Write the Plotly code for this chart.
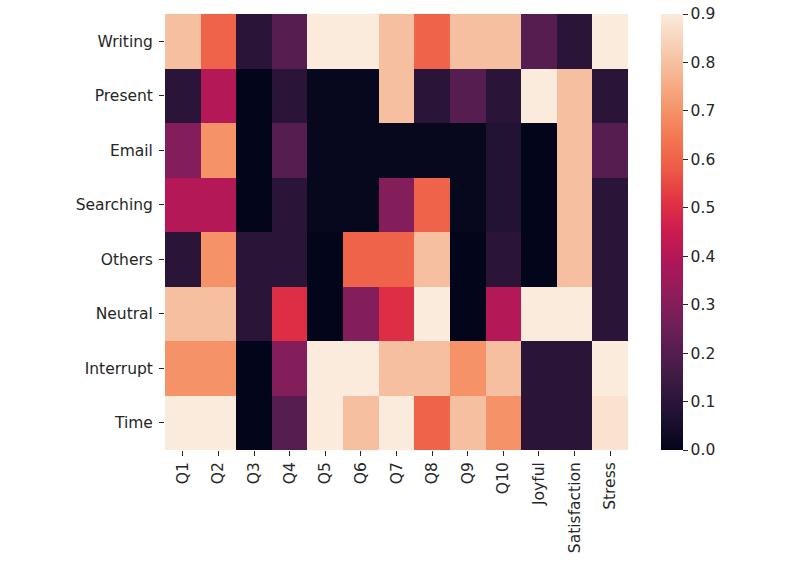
import plotly.graph_objects as go

rows = ["Writing", "Present", "Email", "Searching", "Others", "Neutral", "Interrupt", "Time"]
cols = ["Q1", "Q2", "Q3", "Q4", "Q5", "Q6", "Q7", "Q8", "Q9", "Q10", "Joyful", "Satisfaction", "Stress"]

writing   = [0.80, 0.60, 0.10, 0.20, 0.90, 0.90, 0.80, 0.60, 0.80, 0.80, 0.20, 0.10, 0.90]
present   = [0.10, 0.40, 0.00, 0.10, 0.01, 0.01, 0.80, 0.10, 0.20, 0.10, 0.90, 0.80, 0.10]
email     = [0.30, 0.70, 0.00, 0.20, 0.01, 0.01, 0.01, 0.01, 0.01, 0.08, 0.00, 0.80, 0.20]
searching = [0.40, 0.40, 0.00, 0.10, 0.01, 0.01, 0.30, 0.60, 0.01, 0.08, 0.00, 0.80, 0.10]
others    = [0.10, 0.70, 0.10, 0.10, 0.00, 0.60, 0.60, 0.80, 0.00, 0.10, 0.00, 0.80, 0.10]
neutral   = [0.80, 0.80, 0.10, 0.50, 0.00, 0.30, 0.50, 0.90, 0.00, 0.40, 0.90, 0.90, 0.10]
interrupt = [0.70, 0.70, 0.00, 0.30, 0.90, 0.90, 0.80, 0.80, 0.70, 0.80, 0.10, 0.10, 0.90]
time_     = [0.90, 0.90, 0.00, 0.20, 0.90, 0.80, 0.90, 0.60, 0.80, 0.70, 0.10, 0.10, 0.88]

z = [writing, present, email, searching, others, neutral, interrupt, time_]

cbar_ticks = [0, 0.1, 0.2, 0.3, 0.4, 0.5, 0.6, 0.7, 0.8, 0.9]
cbar_labels = ["0.0", "0.1", "0.2", "0.3", "0.4", "0.5", "0.6", "0.7", "0.8", "0.9"]

rocket = [
    [0.0, "#03051A"],
    [0.071, "#1c1030"],
    [0.143, "#35193E"],
    [0.214, "#511d4f"],
    [0.286, "#701F57"],
    [0.357, "#8e1d5b"],
    [0.429, "#AD1759"],
    [0.5, "#cb1b4f"],
    [0.571, "#E13342"],
    [0.643, "#ed5a46"],
    [0.714, "#F37651"],
    [0.786, "#f5966b"],
    [0.857, "#F6B48F"],
    [0.929, "#f7d0b5"],
    [1.0, "#FAEBDD"],
]

font = dict(family="DejaVu Sans", size=15.5, color="#262626")

fig = go.Figure(go.Heatmap(
    z=z, x=cols, y=rows,
    colorscale=rocket, zmin=0, zmax=0.9,
    colorbar=dict(
        x=1.0713, xanchor="left", xpad=0, y=0, yanchor="bottom", ypad=0,
        len=1.0, lenmode="fraction",
        thickness=22, outlinewidth=0,
        tickvals=cbar_ticks, ticktext=cbar_labels,
        ticks="outside", ticklen=5, tickcolor="#262626",
        tickfont=font,
    ),
))

fig.update_layout(
    width=800, height=567,
    margin=dict(l=165, r=172, t=14, b=117),
    paper_bgcolor="white", plot_bgcolor="white",
    font=font,
)
fig.update_xaxes(tickangle=-90, ticks="outside", ticklen=5, tickcolor="#262626",
                 showgrid=False, zeroline=False, showline=False, tickfont=font)
fig.update_yaxes(autorange="reversed", ticks="outside", ticklen=5, tickcolor="#262626",
                 showgrid=False, zeroline=False, showline=False, tickfont=font,
                 ticklabelstandoff=3)

fig.write_html("out.html")
